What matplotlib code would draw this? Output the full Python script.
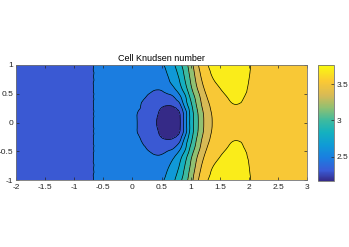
#número de Knudsen por celda: contornos rellenos estilo MATLAB

import matplotlib
matplotlib.use("Agg")
import matplotlib.pyplot as plt
import matplotlib.tri as mtri
import numpy as np
from matplotlib.colors import LinearSegmentedColormap, Normalize
from matplotlib.cm import ScalarMappable

plt.rcParams['font.family'] = ['Liberation Sans', 'DejaVu Sans']
plt.rcParams['axes.unicode_minus'] = False

# Malla (x por columnas, media altura y >= 0, luego se refleja)
x_cols = [-2, -1.2, -0.8, -0.5, -0.2, 0, 0.1, 0.2, 0.3, 0.4, 0.5, 0.6, 0.7, 0.8, 0.9,
          1.0, 1.1, 1.2, 1.3, 1.4, 1.5, 1.6, 1.75, 1.9, 2.0, 2.1, 2.3, 2.6, 3.0]
y_mitad = [0, 0.15, 0.3, 0.45, 0.6, 0.8, 1.0]

# Valores (zona izquierda igual en todas las filas)
izquierda = [2.40, 2.43, 2.45, 2.51, 2.54]
fila_000 = izquierda + [2.52, 2.465, 2.43, 2.38, 2.31, 2.22, 2.18, 2.19, 2.25, 2.56, 2.875, 3.11,
                        3.31, 3.45, 3.55, 3.59, 3.61, 3.62, 3.62, 3.62, 3.61, 3.60, 3.59, 3.58]
fila_015 = izquierda + [2.52, 2.465, 2.43, 2.39, 2.33, 2.26, 2.21, 2.22, 2.27, 2.55, 2.88, 3.12,
                        3.32, 3.46, 3.56, 3.60, 3.62, 3.63, 3.63, 3.63, 3.62, 3.61, 3.59, 3.58]
fila_030 = izquierda + [2.53, 2.50, 2.44, 2.41, 2.36, 2.32, 2.305, 2.32, 2.41, 2.70, 2.95, 3.18,
                        3.37, 3.50, 3.58, 3.63, 3.665, 3.695, 3.685, 3.66, 3.64, 3.62, 3.60, 3.58]
fila_045 = izquierda + [2.54, 2.53, 2.49, 2.45, 2.42, 2.41, 2.43, 2.47, 2.60, 2.79, 3.04, 3.24,
                        3.42, 3.55, 3.62, 3.665, 3.695, 3.725, 3.705, 3.68, 3.66, 3.63, 3.61, 3.59]
fila_060 = izquierda + [2.55, 2.54, 2.53, 2.51, 2.49, 2.50, 2.56, 2.63, 2.75, 2.93, 3.14, 3.33,
                        3.49, 3.60, 3.66, 3.70, 3.725, 3.745, 3.725, 3.692, 3.67, 3.64, 3.61, 3.59]
fila_080 = izquierda + [2.55, 2.55, 2.55, 2.54, 2.55, 2.58, 2.64, 2.74, 2.84, 3.02, 3.21, 3.40,
                        3.56, 3.66, 3.715, 3.745, 3.76, 3.77, 3.75, 3.703, 3.68, 3.65, 3.62, 3.60]
fila_100 = izquierda + [2.55, 2.56, 2.57, 2.58, 2.60, 2.63, 2.69, 2.79, 2.93, 3.09, 3.27, 3.47,
                        3.62, 3.702, 3.74, 3.76, 3.765, 3.77, 3.76, 3.712, 3.68, 3.65, 3.62, 3.60]

niveles = [2.3, 2.475, 2.65, 2.825, 3.0, 3.175, 3.35, 3.525, 3.7]
z_min, z_max = 2.16, 3.775
x_ticks = [-2, -1.5, -1, -0.5, 0, 0.5, 1, 1.5, 2, 2.5, 3]
x_tick_labels = ['-2', '-1.5', '-1', '-0.5', '0', '0.5', '1', '1.5', '2', '2.5', '3']
y_ticks = [-1, -0.5, 0, 0.5, 1]
y_tick_labels = ['-1', '-0.5', '0', '0.5', '1']
cb_ticks = [2.5, 3, 3.5]
cb_tick_labels = ['2.5', '3', '3.5']

# Reflejar la media malla para obtener todo el canal
filas = [fila_000, fila_015, fila_030, fila_045, fila_060, fila_080, fila_100]
y_full = [-v for v in y_mitad[:0:-1]] + y_mitad
Z = np.array(filas[:0:-1] + filas)
X, Y = np.meshgrid(x_cols, y_full)

# Triangulación refinada para suavizar los contornos
tri = mtri.Triangulation(X.ravel(), Y.ravel())
interp = mtri.CubicTriInterpolator(tri, Z.ravel(), kind='geom')
tri_fina, z_fina = mtri.UniformTriRefiner(tri).refine_field(Z.ravel(), triinterpolator=interp, subdiv=3)
z_fina = np.clip(z_fina, z_min + 0.01, z_max - 0.001)

# Aproximación de parula
parula = LinearSegmentedColormap.from_list(
    'parula', [(0.0, '#352a87'), (0.09, '#3a5bd6'), (0.2, '#1a7ee0'), (0.31, '#0f9bd6'),
               (0.42, '#14b1bf'), (0.52, '#3cbaa0'), (0.63, '#8fc072'), (0.74, '#d8ba55'),
               (0.86, '#fbc934'), (1.0, '#f9fb0e')])
norma = Normalize(z_min, 3.77)
limites = [z_min] + niveles + [z_max]
colores_banda = [parula(norma(v)) for v in limites[:-1]]

fig = plt.figure(figsize=(3.49, 2.47), dpi=100)
ax = fig.add_axes([0.046, 0.271, 0.834, 0.466])
ax.tricontourf(tri_fina, z_fina, levels=limites, colors=colores_banda)
ax.tricontour(tri_fina, z_fina, levels=niveles, colors='k', linewidths=0.5)

ax.set_xlim(-2, 3)
ax.set_ylim(-1, 1)
ax.set_xticks(x_ticks)
ax.set_xticklabels(x_tick_labels)
ax.set_yticks(y_ticks)
ax.set_yticklabels(y_tick_labels)
ax.tick_params(direction='in', length=2.5, width=0.5, top=True, right=True,
               labelsize=6, pad=3, colors='0.15')
ax.tick_params(axis='y', pad=2)
for lado in ax.spines.values():
    lado.set_linewidth(0.6)
    lado.set_color('0.45')
ax.set_title('Cell Knudsen number', fontsize=6.5, pad=3)

# Barra de color continua
cax = fig.add_axes([0.911, 0.267, 0.046, 0.47])
cb = fig.colorbar(ScalarMappable(norm=norma, cmap=parula), cax=cax, ticks=cb_ticks)
cb.ax.set_yticklabels(cb_tick_labels)
cb.ax.tick_params(direction='in', length=2.5, width=0.5, labelsize=6, pad=2, colors='0.15')
cb.outline.set_linewidth(0.6)
cb.outline.set_edgecolor('0.45')

plt.savefig('out.png', dpi=100)
plt.close()
